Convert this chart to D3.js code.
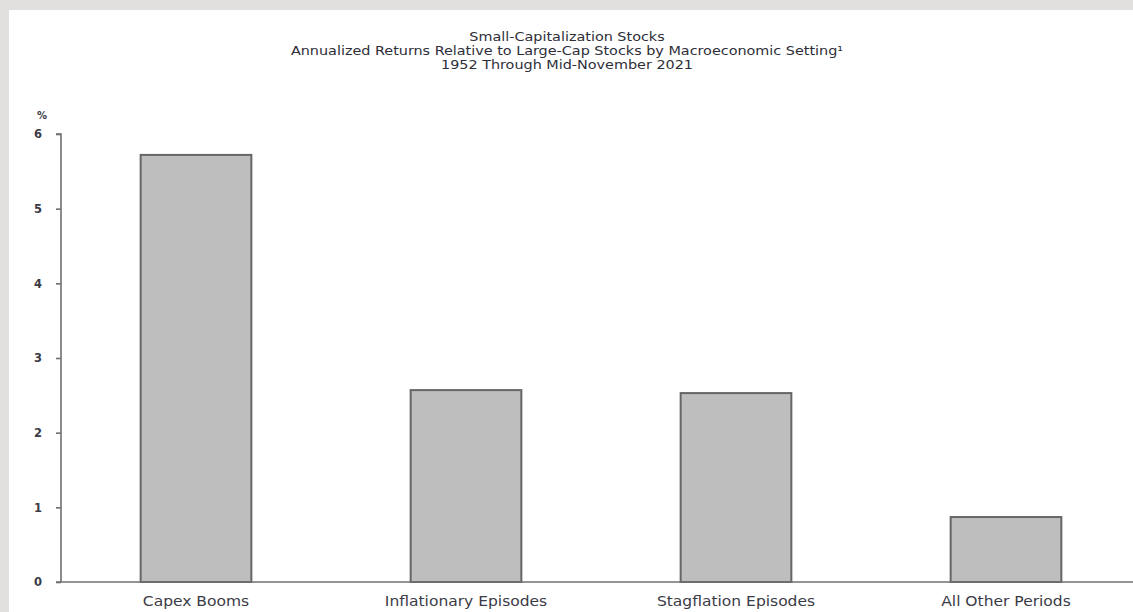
<!DOCTYPE html>
<html>
<head>
<meta charset="utf-8">
<script src="https://cdn.jsdelivr.net/npm/d3@7"></script>
<style>
  html, body { margin: 0; padding: 0; background: #e1e0de; }
  svg { display: block; }
</style>
</head>
<body>
<svg id="chart" width="1133" height="612"></svg>
<script>
// chart values
var categories = ["Capex Booms", "Inflationary Episodes", "Stagflation Episodes", "All Other Periods"]
var values = [5.72, 2.57, 2.53, 0.87]
var yTicks = [0, 1, 2, 3, 4, 5, 6]
var titleLines = [
  "Small-Capitalization Stocks",
  "Annualized Returns Relative to Large-Cap Stocks by Macroeconomic Setting\u00b9",
  "1952 Through Mid-November 2021"
]

function draw(){
  var svg = d3.select('svg#chart')
  var W = 1133, H = 612
  var textColor = '#3b3b46'
  // the source picture is stretched sideways, so text is too
  var titleStretch = 1.28, labelStretch = 1.15

  // white panel on the grey page
  svg.append('rect')
    .attr('x', 9).attr('y', 10)
    .attr('width', W - 9).attr('height', H - 10)
    .style('fill', '#fff')

  // title
  svg.append('g').selectAll('text')
    .data(titleLines)
    .enter()
    .append('text')
    .attr('transform', function(d, i){ return 'translate(567,' + (41 + i * 14) + ') scale(' + titleStretch + ',1)' })
    .attr('text-anchor', 'middle')
    .style('font-family', 'DejaVu Sans Condensed, DejaVu Sans')
    .style('font-size', '12.5px')
    .style('fill', '#2e2e38')
    .text(function(d){ return d })

  var x = d3.scaleBand()
    .domain(categories)
    .range([61, 1141])
    .paddingInner(0.59)
    .paddingOuter(0.295)

  var y = d3.scaleLinear()
    .domain([0, 6])
    .range([582, 134])

  var g = svg.append('g')

  // bars
  g.selectAll('.bar')
    .data(values)
    .enter()
    .append('rect')
    .attr('class', 'bar')
    .attr('x', function(d, i){ return x(categories[i]) })
    .attr('y', function(d){ return y(d) })
    .attr('width', x.bandwidth())
    .attr('height', function(d){ return y(0) - y(d) })
    .style('fill', '#bebebe')
    .style('stroke', '#666')
    .style('stroke-width', 2)

  // y axis
  var yAxis = g.append('g')
    .attr('transform', 'translate(61,0)')
    .call(d3.axisLeft(y).tickValues(yTicks).tickSize(5).tickPadding(14).tickFormat(d3.format('d')))
  yAxis.select('.domain').attr('d', 'M-5,' + y(6) + 'H0V' + y(0)).style('stroke', '#707070').style('stroke-width', 1.6)
  yAxis.selectAll('.tick line').style('stroke', '#707070').style('stroke-width', 1.6)
  yAxis.selectAll('.tick text')
    .style('font-family', 'DejaVu Sans')
    .style('font-size', '11.5px')
    .style('font-weight', 'bold')
    .style('fill', textColor)

  // % unit
  g.append('text')
    .attr('x', 42).attr('y', 119)
    .attr('text-anchor', 'middle')
    .style('font-family', 'DejaVu Sans')
    .style('font-size', '10px')
    .style('font-weight', 'bold')
    .style('fill', textColor)
    .text('%')

  // x axis
  var xAxis = g.append('g')
    .attr('transform', 'translate(0,' + y(0) + ')')
    .call(d3.axisBottom(x).tickSize(0).tickPadding(14))
  xAxis.select('.domain').attr('d', 'M56,0H' + W).style('stroke', '#707070').style('stroke-width', 1.6)
  xAxis.selectAll('.tick text')
    .attr('transform', 'scale(' + labelStretch + ',1)')
    .style('font-family', 'DejaVu Sans')
    .style('font-size', '13.5px')
    .style('fill', textColor)
}
draw()
</script>
</body>
</html>
